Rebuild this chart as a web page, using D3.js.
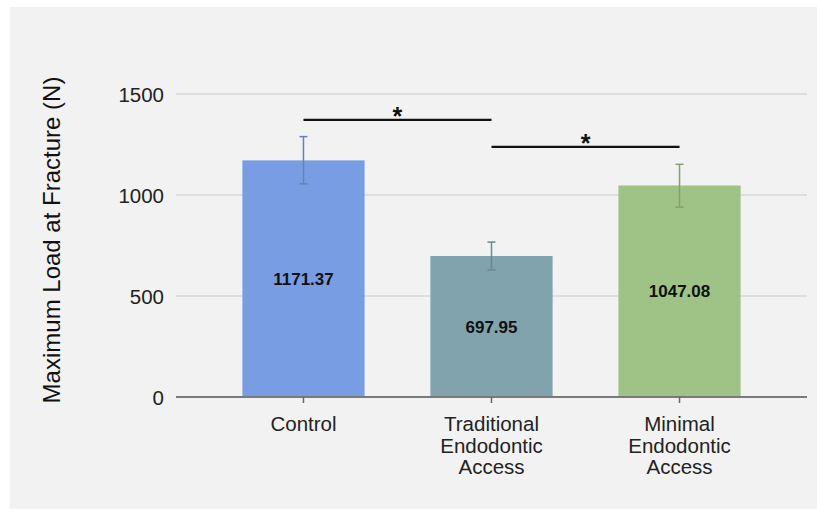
<!DOCTYPE html>
<html>
<head>
<meta charset="utf-8">
<script src="https://cdn.jsdelivr.net/npm/d3@7"></script>
<style>
  html, body { margin: 0; padding: 0; background: #ffffff; }
  svg { display: block; font-family: "Liberation Sans", Arial, sans-serif; }
</style>
</head>
<body>
<svg id="chart" width="817" height="510"></svg>
<script>
// Fracture load per access design (mean ± SD)
const categories = [["Control"], ["Traditional", "Endodontic", "Access"], ["Minimal", "Endodontic", "Access"]];
const means = [1171.37, 697.95, 1047.08];
const errLow = [1055, 629, 940];
const errHigh = [1289, 767, 1152];
const barColors = ["#789de3", "#81a3ad", "#9fc386"];
const errColors = ["#6a82ad", "#6a8890", "#84a070"];
const yTicks = [0, 500, 1000, 1500];
// Significance brackets: [from index, to index, height in N]
const brackets = [[0, 1, 1372], [1, 2, 1238]];

const svg = d3.select("#chart");

// panel background
svg.append("rect").attr("x", 10).attr("y", 7).attr("width", 807).attr("height", 502).attr("fill", "#f2f2f2");

const x = d3.scaleBand().domain(d3.range(categories.length)).range([176, 807]).paddingInner(0.35).paddingOuter(0.353);
const y = d3.scaleLinear().domain([0, 1500]).range([397, 94]);

// horizontal gridlines
svg.append("g").selectAll("line").data(yTicks.filter(d => d > 0)).join("line")
  .attr("x1", 176).attr("x2", 807)
  .attr("y1", d => y(d)).attr("y2", d => y(d))
  .attr("stroke", "#dedede").attr("stroke-width", 2);

// y axis labels
const yAxis = d3.axisLeft(y).tickValues(yTicks).tickSize(0).tickPadding(0).tickFormat(d3.format("d"));
const yg = svg.append("g").attr("transform", "translate(164,0)").call(yAxis);
yg.select(".domain").remove();
yg.selectAll("text").attr("font-size", 20.5).attr("fill", "#222").attr("font-family", "Liberation Sans, Arial, sans-serif").attr("dy", "0.36em");

// bars
svg.append("g").selectAll("rect").data(means).join("rect")
  .attr("x", (d, i) => x(i)).attr("width", x.bandwidth())
  .attr("y", d => y(d)).attr("height", d => y(0) - y(d))
  .attr("fill", (d, i) => barColors[i]);

// x axis baseline and ticks
const xAxis = d3.axisBottom(x).tickSize(6).tickSizeOuter(0).tickFormat("");
const xg = svg.append("g").attr("transform", `translate(0,${y(0)})`).call(xAxis);
xg.select(".domain").attr("d", "M176,0H807").attr("stroke", "#7a7a7a").attr("stroke-width", 2);
xg.selectAll(".tick line").attr("stroke", "#666").attr("stroke-width", 1.5);

// category labels
const cx = i => x(i) + x.bandwidth() / 2;
categories.forEach((lines, i) => {
  const t = svg.append("text").attr("x", cx(i)).attr("y", 431).attr("text-anchor", "middle")
    .attr("font-size", 20.5).attr("fill", "#222");
  lines.forEach((ln, k) => t.append("tspan").attr("x", cx(i)).attr("dy", k === 0 ? 0 : 21.7).text(ln));
});

// error bars
const eg = svg.append("g");
means.forEach((m, i) => {
  const c = cx(i);
  const col = errColors[i];
  eg.append("line").attr("x1", c).attr("x2", c).attr("y1", y(errHigh[i])).attr("y2", y(errLow[i])).attr("stroke", col).attr("stroke-width", 1.5);
  [errHigh[i], errLow[i]].forEach(v => eg.append("line").attr("x1", c - 4).attr("x2", c + 4).attr("y1", y(v)).attr("y2", y(v)).attr("stroke", col).attr("stroke-width", 1.5));
});

// value labels in the middle of each bar
svg.append("g").selectAll("text").data(means).join("text")
  .attr("x", (d, i) => cx(i)).attr("y", d => (y(d) + y(0)) / 2)
  .attr("dy", "0.36em").attr("text-anchor", "middle")
  .attr("font-size", 17).attr("font-weight", "bold").attr("fill", "#111")
  .text(d => d.toFixed(2));

// significance brackets
brackets.forEach(([a, b, h]) => {
  svg.append("line").attr("x1", cx(a)).attr("x2", cx(b)).attr("y1", y(h)).attr("y2", y(h))
    .attr("stroke", "#111").attr("stroke-width", 2.2);
  svg.append("text").attr("x", (cx(a) + cx(b)) / 2).attr("y", y(h) + 5).attr("text-anchor", "middle")
    .attr("font-size", 25).attr("font-weight", "bold").attr("fill", "#111").text("*");
});

// y axis title
svg.append("text").attr("transform", "translate(60,240) rotate(-90)").attr("text-anchor", "middle")
  .attr("font-size", 24).attr("fill", "#111").text("Maximum Load at Fracture (N)");
</script>
</body>
</html>
